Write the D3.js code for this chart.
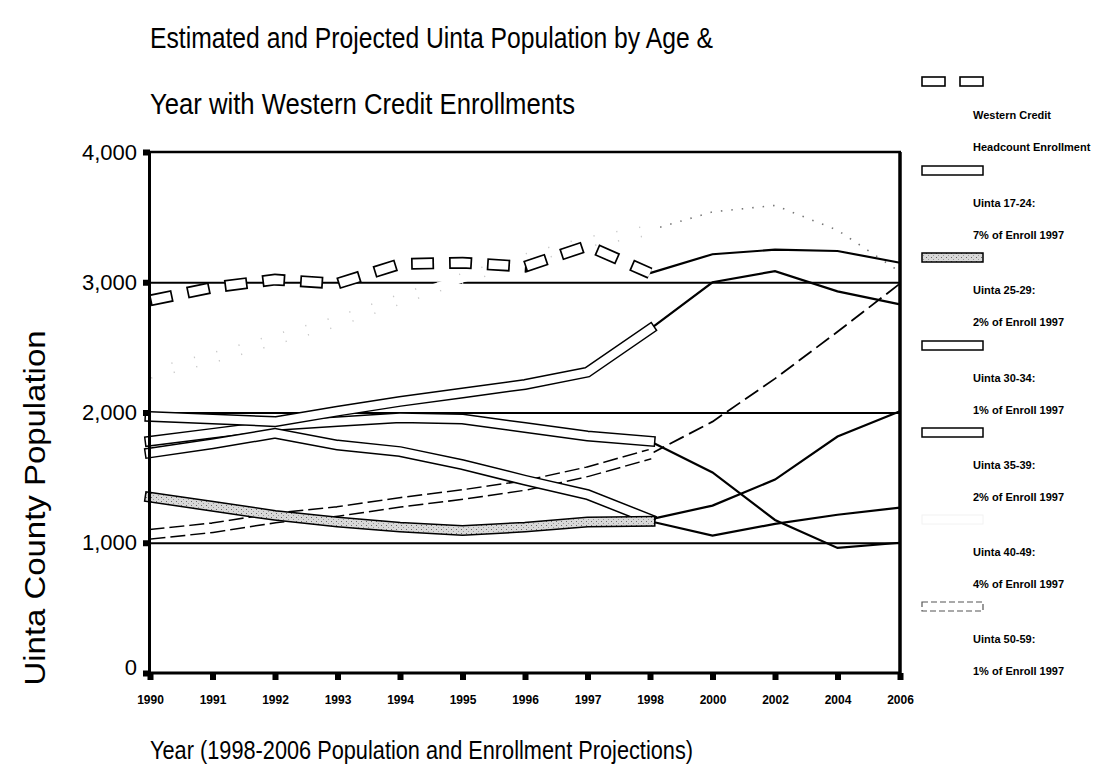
<!DOCTYPE html>
<html><head><meta charset="utf-8">
<script src="https://cdn.jsdelivr.net/npm/d3@7/dist/d3.min.js"></script>
<style>body{margin:0;background:#fff} svg{display:block}</style>
</head><body>
<svg id="chart" width="1102" height="781"></svg>
<script>
// ---- data ----
const categories = ["1990","1991","1992","1993","1994","1995","1996","1997","1998","2000","2002","2004","2006"];
const westernCredit = [2860, 2960, 3020, 2990, 3140, 3150, 3120, 3280, 3070, 3215, 3250, 3240, 3150];
const uinta1724 = [1970, 1950, 1930, 2010, 2085, 2150, 2215, 2310, 2640, 3000, 3085, 2930, 2830];
const uinta2529 = [1350, 1280, 1210, 1160, 1120, 1095, 1120, 1160, 1165, 1055, 1145, 1215, 1270];
const uinta3034 = [1690, 1760, 1840, 1750, 1700, 1600, 1480, 1370, 1180, 1285, 1485, 1815, 2010];
const uinta3539 = [1780, 1840, 1900, 1930, 1960, 1950, 1885, 1820, 1780, 1540, 1175, 960, 1000];
const uinta4049 = [2300, 2420, 2560, 2700, 2870, 3030, 3180, 3310, 3400, 3540, 3590, 3400, 3080];
const uinta5059 = [1065, 1115, 1190, 1240, 1310, 1370, 1440, 1545, 1680, 1930, 2260, 2620, 2990];
const lastActualIndex = 8; // 1998: estimates end, projections begin

const yTicks = [0, 1000, 2000, 3000, 4000];
const yTickLabels = ["0", "1,000", "2,000", "3,000", "4,000"];
const gridValues = [1000, 2000, 3000];

const legendLine1 = ["Western Credit", "Uinta 17-24:", "Uinta 25-29:", "Uinta 30-34:", "Uinta 35-39:", "Uinta 40-49:", "Uinta 50-59:"];
const legendLine2 = ["Headcount Enrollment", "7% of Enroll 1997", "2% of Enroll 1997", "1% of Enroll 1997", "2% of Enroll 1997", "4% of Enroll 1997", "1% of Enroll 1997"];

const titleLines = ["Estimated and Projected Uinta Population by Age &", "Year with Western Credit Enrollments"];
const xTitle = "Year (1998-2006 Population and Enrollment Projections)";
const yTitle = "Uinta County Population";

// ---- chart ----
const series = [
  {values: westernCredit, kind: "dash"},
  {values: uinta1724, kind: "hollow"},
  {values: uinta2529, kind: "gray"},
  {values: uinta3034, kind: "hollow"},
  {values: uinta3539, kind: "hollow"},
  {values: uinta4049, kind: "faint"},
  {values: uinta5059, kind: "dashedOutline"}
].map((s, i) => ({...s, l1: legendLine1[i], l2: legendLine2[i]}));

const svg = d3.select("#chart");
const FONT = "'Liberation Sans', Arial, Helvetica, sans-serif";

const defs = svg.append("defs");
const pat = defs.append("pattern").attr("id", "stipple").attr("patternUnits", "userSpaceOnUse")
  .attr("width", 5).attr("height", 4);
pat.append("rect").attr("width", 5).attr("height", 4).attr("fill", "#d9d9d9");
pat.append("rect").attr("x", 1).attr("y", 1).attr("width", 1).attr("height", 1).attr("fill", "#6a6a6a");
pat.append("rect").attr("x", 3).attr("y", 3).attr("width", 1).attr("height", 1).attr("fill", "#999");

const x = d3.scalePoint().domain(categories).range([150, 900]);
const y = d3.scaleLinear().domain([0, 4000]).range([673, 152]);

// gridlines
svg.append("g").attr("transform", "translate(149,0)")
  .call(d3.axisLeft(y).tickValues(gridValues).tickSize(-751).tickFormat(""))
  .call(g => g.select(".domain").remove())
  .call(g => g.selectAll("line").attr("stroke", "#000").attr("stroke-width", 2.2));

// frame: top & right
svg.append("line").attr("x1", 149).attr("x2", 901).attr("y1", y(4000)).attr("y2", y(4000))
  .attr("stroke", "#000").attr("stroke-width", 2.5);
svg.append("line").attr("x1", 900).attr("x2", 900).attr("y1", y(4000)).attr("y2", y(0))
  .attr("stroke", "#000").attr("stroke-width", 3.5);

const line = d3.line().x(d => x(categories[d.i])).y(d => y(d.v)).curve(d3.curveLinear);
const pts = v => v.map((val, i) => ({v: val, i}));

// projection lines (thin), drawn in reverse series order
const proj = svg.append("g");
series.slice().reverse().forEach(s => {
  const p = pts(s.values).slice(lastActualIndex);
  const path = proj.append("path").attr("d", line(p)).attr("fill", "none");
  if (s.kind === "faint") {
    path.attr("stroke", "#777").attr("stroke-width", 1.6).attr("stroke-dasharray", "1.5 9");
  } else if (s.kind === "dashedOutline") {
    path.attr("stroke", "#000").attr("stroke-width", 1.8).attr("stroke-dasharray", "16 6");
  } else {
    path.attr("stroke", "#000").attr("stroke-width", 2.2);
  }
});

// estimate bands (hollow wide lines), reverse order so first series is on top
const bands = svg.append("g");
series.slice().reverse().forEach(s => {
  const p = pts(s.values).slice(0, lastActualIndex + 1);
  const d = line(p);
  if (s.kind === "dash") {
    bands.append("path").attr("d", d).attr("fill", "none").attr("stroke", "#000")
      .attr("stroke-width", 12).attr("stroke-dasharray", "23 15").attr("stroke-linejoin", "miter");
    bands.append("path").attr("d", d).attr("fill", "none").attr("stroke", "#fff")
      .attr("stroke-width", 8.6).attr("stroke-dasharray", "19.6 18.4").attr("stroke-dashoffset", -1.7)
      .attr("stroke-linejoin", "miter");
  } else if (s.kind === "faint") {
    bands.append("path").attr("d", d).attr("fill", "none").attr("stroke", "#c8c8c8")
      .attr("stroke-width", 11).attr("stroke-dasharray", "1.2 22").attr("stroke-linecap", "butt");
    bands.append("path").attr("d", d).attr("fill", "none").attr("stroke", "#fff")
      .attr("stroke-width", 8).attr("stroke-linecap", "square");
  } else {
    const outer = bands.append("path").attr("d", d).attr("fill", "none").attr("stroke", "#000")
      .attr("stroke-width", 11).attr("stroke-linecap", "square").attr("stroke-linejoin", "miter");
    if (s.kind === "dashedOutline") outer.attr("stroke-dasharray", "15 5").attr("stroke-linecap", "butt");
    bands.append("path").attr("d", d).attr("fill", "none")
      .attr("stroke", s.kind === "gray" ? "url(#stipple)" : "#fff")
      .attr("stroke-width", 8).attr("stroke-linecap", "square").attr("stroke-linejoin", "miter");
  }
});

// y axis
const yAxis = svg.append("g").attr("transform", "translate(149,0)")
  .call(d3.axisLeft(y).tickValues(yTicks).tickFormat((d, i) => yTickLabels[i]).tickSize(0).tickPadding(12));
yAxis.select(".domain").attr("stroke", "#000").attr("stroke-width", 3);
yAxis.selectAll("text").attr("font-family", FONT).attr("font-size", 22).attr("fill", "#000")
  .attr("dy", d => d === 0 ? "0.05em" : "0.32em");
yAxis.selectAll(".tick").append("rect").attr("x", -6).attr("y", -3).attr("width", 7).attr("height", 6).attr("fill", "#000");

// x axis
const xAxis = svg.append("g").attr("transform", `translate(0,${y(0)})`)
  .call(d3.axisBottom(x).tickSize(0).tickPadding(22));
xAxis.select(".domain").attr("stroke", "#000").attr("stroke-width", 3).attr("d", "M149,0H901");
xAxis.selectAll("text").attr("font-family", FONT).attr("font-size", 12).attr("font-weight", "bold").attr("fill", "#000");
xAxis.selectAll(".tick").append("rect").attr("x", -3).attr("y", 0).attr("width", 6).attr("height", 7).attr("fill", "#000");

// titles
svg.append("text").attr("x", 150).attr("y", 48).attr("font-family", FONT).attr("font-size", 30)
  .attr("textLength", 563).attr("lengthAdjust", "spacingAndGlyphs").text(titleLines[0]);
svg.append("text").attr("x", 150).attr("y", 114).attr("font-family", FONT).attr("font-size", 30)
  .attr("textLength", 425).attr("lengthAdjust", "spacingAndGlyphs").text(titleLines[1]);
svg.append("text").attr("x", 150).attr("y", 759).attr("font-family", FONT).attr("font-size", 25)
  .attr("textLength", 543).attr("lengthAdjust", "spacingAndGlyphs").text(xTitle);
svg.append("text").attr("transform", "translate(45,508) rotate(-90)").attr("text-anchor", "middle")
  .attr("font-family", FONT).attr("font-size", 29)
  .attr("textLength", 355).attr("lengthAdjust", "spacingAndGlyphs").text(yTitle);

// legend
const lg = svg.append("g");
const swTop = [166, 253, 341, 428, 515, 602];
series.forEach((s, i) => {
  if (i === 0) {
    [922, 960].forEach(x0 => lg.append("rect").attr("x", x0).attr("y", 77).attr("width", 23).attr("height", 9)
      .attr("fill", "#fff").attr("stroke", "#000").attr("stroke-width", 1.6));
    lg.append("text").attr("x", 973).attr("y", 119).text(s.l1);
    lg.append("text").attr("x", 973).attr("y", 151).text(s.l2);
    return;
  }
  const t = swTop[i - 1];
  const r = lg.append("rect").attr("x", 922).attr("y", t).attr("width", 61).attr("height", 9);
  if (s.kind === "gray") r.attr("fill", "url(#stipple)").attr("stroke", "#000").attr("stroke-width", 1.5);
  else if (s.kind === "faint") r.attr("fill", "none").attr("stroke", "#f2f2f2").attr("stroke-width", 1);
  else if (s.kind === "dashedOutline") r.attr("fill", "#fff").attr("stroke", "#555").attr("stroke-width", 1.2).attr("stroke-dasharray", "6 3");
  else r.attr("fill", "#fff").attr("stroke", "#000").attr("stroke-width", 1.5);
  lg.append("text").attr("x", 973).attr("y", t + 41).text(s.l1);
  lg.append("text").attr("x", 973).attr("y", t + 73).text(s.l2);
});
lg.selectAll("text").attr("font-family", FONT).attr("font-size", 11).attr("font-weight", "bold").attr("fill", "#000");
</script>
</body></html>
